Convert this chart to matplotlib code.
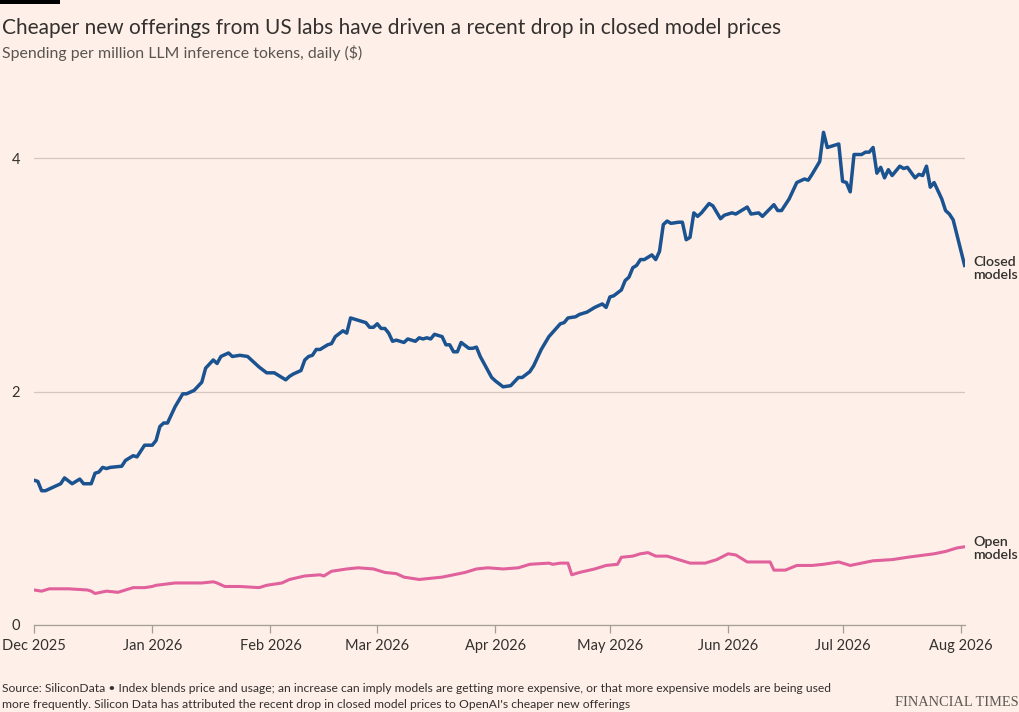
import matplotlib
matplotlib.use("Agg")
import matplotlib.pyplot as plt
import matplotlib.dates as mdates
import numpy as np
import pandas as pd

# ---- data ----
start_date = "2025-12-01"

closed_day = [0, 1, 2, 3, 5, 7, 8, 10, 12, 13,
              15, 16, 17, 18, 19, 20, 23, 24, 26, 27,
              29, 31, 32, 33, 34, 35, 36, 37, 39, 40,
              42, 44, 45, 47, 48, 49, 51, 52, 54, 56,
              59, 61, 63, 64, 66, 67, 68, 70, 71, 72,
              73, 74, 75, 77, 78, 79, 81, 82, 83, 85,
              87, 88, 89, 90, 91, 92, 93, 94, 95, 97,
              98, 100, 101, 102, 103, 104, 105, 107, 108, 109,
              110, 111, 112, 114, 115, 116, 117, 118, 120, 121,
              123, 125, 127, 128, 130, 131, 133, 135, 138, 139,
              140, 142, 143, 145, 146, 147, 149, 150, 151, 152,
              154, 155, 156, 157, 158, 159, 160, 162, 163, 164,
              165, 166, 167, 169, 170, 171, 172, 173, 174, 175,
              177, 178, 180, 181, 183, 184, 187, 188, 190, 191,
              194, 195, 196, 198, 200, 202, 203, 204, 206, 207,
              208, 210, 211, 212, 213, 214, 215, 217, 218, 219,
              220, 221, 222, 223, 224, 225, 227, 228, 229, 231,
              232, 233, 234, 235, 236, 237, 238, 239, 240, 241,
              242, 243, 244]
closed_value = [1.24, 1.23, 1.15, 1.15, 1.18, 1.21, 1.26, 1.21, 1.25, 1.21,
                1.21, 1.30, 1.31, 1.35, 1.34, 1.35, 1.36, 1.41, 1.45, 1.44,
                1.54, 1.54, 1.58, 1.70, 1.73, 1.73, 1.80, 1.87, 1.98, 1.98,
                2.01, 2.08, 2.20, 2.27, 2.24, 2.30, 2.33, 2.30, 2.31, 2.30,
                2.21, 2.16, 2.16, 2.14, 2.10, 2.13, 2.15, 2.18, 2.27, 2.30,
                2.31, 2.36, 2.36, 2.40, 2.41, 2.47, 2.52, 2.50, 2.63, 2.61,
                2.59, 2.55, 2.55, 2.58, 2.54, 2.54, 2.50, 2.43, 2.44, 2.42,
                2.45, 2.43, 2.46, 2.45, 2.46, 2.45, 2.49, 2.47, 2.40, 2.40,
                2.34, 2.34, 2.42, 2.37, 2.37, 2.38, 2.30, 2.24, 2.12, 2.09,
                2.04, 2.05, 2.12, 2.12, 2.17, 2.22, 2.36, 2.47, 2.58, 2.59,
                2.63, 2.64, 2.66, 2.68, 2.70, 2.72, 2.75, 2.72, 2.81, 2.82,
                2.87, 2.95, 2.98, 3.06, 3.08, 3.13, 3.13, 3.17, 3.13, 3.20,
                3.43, 3.46, 3.44, 3.45, 3.45, 3.30, 3.32, 3.53, 3.50, 3.53,
                3.61, 3.59, 3.48, 3.51, 3.53, 3.52, 3.58, 3.52, 3.53, 3.50,
                3.60, 3.55, 3.55, 3.65, 3.79, 3.82, 3.81, 3.86, 3.97, 4.22,
                4.09, 4.11, 4.12, 3.80, 3.79, 3.71, 4.03, 4.03, 4.05, 4.05,
                4.09, 3.87, 3.92, 3.83, 3.90, 3.85, 3.93, 3.91, 3.92, 3.83,
                3.86, 3.85, 3.93, 3.75, 3.79, 3.72, 3.65, 3.55, 3.52, 3.47,
                3.34, 3.21, 3.08]

open_day = [0, 2, 4, 9, 14, 15, 16, 19, 22, 24,
            26, 29, 31, 32, 37, 44, 47, 48, 50, 54,
            59, 61, 65, 67, 71, 75, 76, 78, 80, 82,
            85, 89, 92, 95, 97, 101, 107, 110, 113, 116,
            119, 123, 127, 130, 135, 136, 138, 140, 141, 143,
            147, 150, 153, 154, 157, 159, 161, 163, 166, 168,
            172, 176, 179, 182, 184, 187, 189, 193, 194, 197,
            200, 204, 207, 211, 214, 217, 220, 225, 229, 236,
            239, 242, 244]
open_value = [0.30, 0.29, 0.31, 0.31, 0.30, 0.29, 0.27, 0.29, 0.28, 0.30,
              0.32, 0.32, 0.33, 0.34, 0.36, 0.36, 0.37, 0.36, 0.33, 0.33,
              0.32, 0.34, 0.36, 0.39, 0.42, 0.43, 0.42, 0.46, 0.47, 0.48,
              0.49, 0.48, 0.45, 0.44, 0.41, 0.39, 0.41, 0.43, 0.45, 0.48,
              0.49, 0.48, 0.49, 0.52, 0.53, 0.52, 0.53, 0.53, 0.43, 0.45,
              0.48, 0.51, 0.52, 0.58, 0.59, 0.61, 0.62, 0.59, 0.59, 0.57,
              0.53, 0.53, 0.56, 0.61, 0.60, 0.54, 0.54, 0.54, 0.47, 0.47,
              0.51, 0.51, 0.52, 0.54, 0.51, 0.53, 0.55, 0.56, 0.58, 0.61,
              0.63, 0.66, 0.67]

month_ticks = ["2025-12-01", "2026-01-01", "2026-02-01", "2026-03-01", "2026-04-01",
               "2026-05-01", "2026-06-01", "2026-07-01", "2026-08-01"]
month_labels = ["Dec 2025", "Jan 2026", "Feb 2026", "Mar 2026", "Apr 2026",
                "May 2026", "Jun 2026", "Jul 2026", "Aug 2026"]
y_ticks = [0, 2, 4]

title = "Cheaper new offerings from US labs have driven a recent drop in closed model prices"
subtitle = "Spending per million LLM inference tokens, daily ($)"
source_lines = ["Source: SiliconData \u2022 Index blends price and usage; an increase can imply models are getting more expensive, or that more expensive models are being used",
                "more frequently. Silicon Data has attributed the recent drop in closed model prices to OpenAI's cheaper new offerings"]

# ---- style ----
BG = "#FEF0E8"
TXT = "#33302E"
GREY = "#5A5550"
BLUE = "#1B5290"
PINK = "#E0619B"
plt.rcParams["font.family"] = ["Lato", "DejaVu Sans"]

t0 = pd.Timestamp(start_date)
closed_x = t0 + pd.to_timedelta(closed_day, unit="D")
open_x = t0 + pd.to_timedelta(open_day, unit="D")

W, H = 1020, 712
fig = plt.figure(figsize=(W / 100, H / 100), dpi=100, facecolor=BG)
ax_left, ax_right = 34 / W, 965 / W
ax_bottom = 1 - 625 / H
ymax = 4.4
ax_top = 1 - (625 - ymax * 116.75) / H
ax = fig.add_axes([ax_left, ax_bottom, ax_right - ax_left, ax_top - ax_bottom])
ax.set_facecolor(BG)

ax.plot(open_x, open_value, color=PINK, lw=2.2, solid_joinstyle="round", zorder=3)
ax.plot(closed_x, closed_value, color=BLUE, lw=2.5, solid_joinstyle="round", zorder=4)

ax.set_ylim(0, ymax)
ax.set_xlim(t0, t0 + pd.Timedelta(days=244.1))

ax.set_yticks(y_ticks)
ax.set_yticklabels([str(v) for v in y_ticks])
ax.grid(axis="y", color="#D2C8C1", lw=0.9)
ax.set_axisbelow(True)
ax.tick_params(axis="y", length=0, pad=10, labelsize=10.5, labelcolor=TXT)

ax.set_xticks(pd.to_datetime(month_ticks))
ax.set_xticklabels(month_labels)
ax.tick_params(axis="x", length=6, width=0.9, color="#A59E98", pad=4,
               labelsize=10.5, labelcolor=TXT)

for s in ["top", "right", "left"]:
    ax.spines[s].set_visible(False)
ax.spines["bottom"].set_color("#A59E98")
ax.spines["bottom"].set_linewidth(0.9)

# line labels
ax.annotate("Closed\nmodels", xy=(closed_x[-1], closed_value[-1]), xytext=(6, -2),
            textcoords="offset points", ha="left", va="center", fontsize=10.2,
            fontweight="semibold", color=TXT, linespacing=1.1, annotation_clip=False)
ax.annotate("Open\nmodels", xy=(open_x[-1], open_value[-1]), xytext=(6, -1.5),
            textcoords="offset points", ha="left", va="center", fontsize=10.2,
            fontweight="semibold", color=TXT, linespacing=1.1, annotation_clip=False)

# titles
fig.patches.append(plt.Rectangle((0, 1 - 4 / H), 60 / W, 4 / H, transform=fig.transFigure,
                                 facecolor="black", edgecolor="none"))
fig.text(2 / W, 1 - 28 / H, title, ha="left", va="center", fontsize=15, color=TXT)
fig.text(2 / W, 1 - 53 / H, subtitle, ha="left", va="center", fontsize=11.4, color=GREY)

fig.text(2 / W, 1 - 689 / H, source_lines[0], ha="left", va="center", fontsize=8.75, color=TXT)
fig.text(2 / W, 1 - 704 / H, source_lines[1], ha="left", va="center", fontsize=8.75, color=TXT)
fig.text(1 - 1 / W, 1 - 703 / H, "FINANCIAL TIMES", ha="right", va="center", fontsize=10.4,
         family=["Liberation Serif", "DejaVu Serif"], color="#5D5853")

fig.savefig("out.png", dpi=100, facecolor=BG)
